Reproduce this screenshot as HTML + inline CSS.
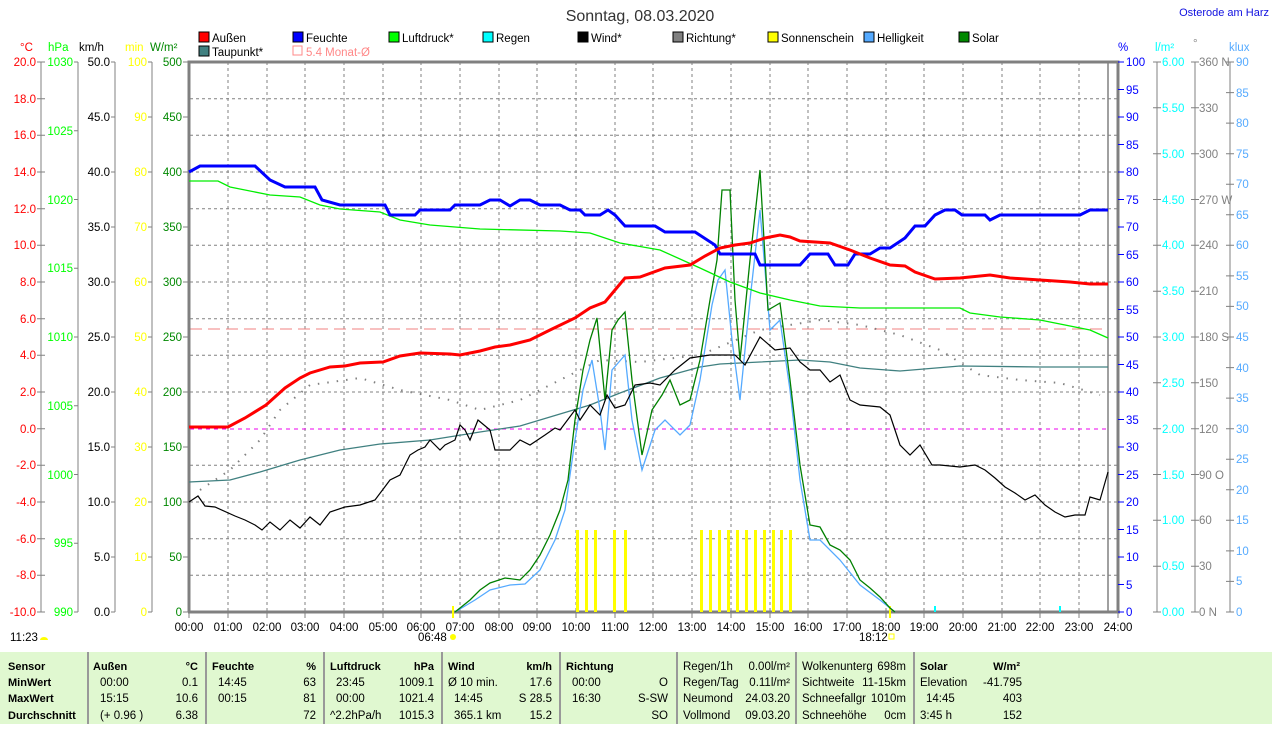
<!DOCTYPE html>
<html><head><meta charset="utf-8"><style>
body{margin:0;background:#fff;width:1274px;height:724px;overflow:hidden;font-family:"Liberation Sans",sans-serif}
svg text{font-family:"Liberation Sans",sans-serif;font-size:11.5px}
</style></head><body>
<svg width="1274" height="724" viewBox="0 0 1274 724" xmlns="http://www.w3.org/2000/svg">
<rect x="0" y="652" width="1272" height="72" fill="#e0f8d0"/>
<g stroke="#999" stroke-width="2">
<line x1="88" y1="652" x2="88" y2="724"/><line x1="206" y1="652" x2="206" y2="724"/><line x1="324" y1="652" x2="324" y2="724"/><line x1="442" y1="652" x2="442" y2="724"/><line x1="560" y1="652" x2="560" y2="724"/><line x1="677" y1="652" x2="677" y2="724"/><line x1="796" y1="652" x2="796" y2="724"/><line x1="914" y1="652" x2="914" y2="724"/>
</g>
<text x="640" y="21" text-anchor="middle" style="font-size:16px" fill="#333">Sonntag, 08.03.2020</text>
<text x="1269" y="16" text-anchor="end" style="font-size:11px" fill="#1010e0">Osterode am Harz</text>
<g stroke="#000" stroke-width="1">
<rect x="199" y="32" width="10" height="10" fill="#f00"/><rect x="293" y="32" width="10" height="10" fill="#00f"/><rect x="389" y="32" width="10" height="10" fill="#0f0"/><rect x="483" y="32" width="10" height="10" fill="#0ff"/><rect x="578" y="32" width="10" height="10" fill="#000"/><rect x="673" y="32" width="10" height="10" fill="#808080"/><rect x="768" y="32" width="10" height="10" fill="#ff0"/><rect x="864" y="32" width="10" height="10" fill="#5af"/><rect x="959" y="32" width="10" height="10" fill="#080"/><rect x="199" y="46" width="10" height="10" fill="#408080"/>
</g>
<rect x="293" y="46" width="9" height="9" fill="none" stroke="#f88"/>
<g fill="#000"><text x="212" y="42">Außen</text><text x="306" y="42">Feuchte</text><text x="402" y="42">Luftdruck*</text><text x="496" y="42">Regen</text><text x="591" y="42">Wind*</text><text x="686" y="42">Richtung*</text><text x="781" y="42">Sonnenschein</text><text x="877" y="42">Helligkeit</text><text x="972" y="42">Solar</text><text x="212" y="56">Taupunkt*</text></g>
<text x="306" y="56" fill="#f88">5.4 Monat-Ø</text>
<text x="20" y="51" fill="#f00">°C</text><text x="48" y="51" fill="#0f0">hPa</text><text x="79" y="51" fill="#000">km/h</text><text x="125" y="51" fill="#ff0">min</text><text x="150" y="51" fill="#080">W/m²</text>
<text x="1118" y="51" fill="#00f">%</text><text x="1155" y="51" fill="#0ff">l/m²</text><text x="1193" y="47" fill="#888">°</text><text x="1229" y="51" fill="#5af">klux</text>
<g stroke="#808080" stroke-dasharray="3 3" stroke-width="1">
<path d="M228 62V612M267 62V612M305 62V612M344 62V612M383 62V612M421 62V612M460 62V612M499 62V612M537 62V612M576 62V612M615 62V612M653 62V612M692 62V612M731 62V612M770 62V612M808 62V612M847 62V612M886 62V612M924 62V612M963 62V612M1002 62V612M1040 62V612M1079 62V612"/>
<path d="M190 98.7H1118M190 135.3H1118M190 172H1118M190 208.7H1118M190 245.3H1118M190 282H1118M190 318.7H1118M190 355.3H1118M190 392H1118M190 465.3H1118M190 502H1118M190 538.7H1118M190 575.3H1118"/>
</g>
<line x1="190" y1="429" x2="1108" y2="429" stroke="#e0e" stroke-dasharray="4 4"/>
<line x1="190" y1="329" x2="1108" y2="329" stroke="#f08080" stroke-dasharray="12 6"/>
<path d="M189 612V62H1118V612" fill="none" stroke="#808080" stroke-width="3"/>
<line x1="1108" y1="62" x2="1108" y2="612" stroke="#808080" stroke-width="1.5"/>
<line x1="188" y1="612" x2="1120" y2="612" stroke="#808080" stroke-width="3"/>
<g stroke="#808080"><path d="M189 612v6M228 612v6M267 612v6M305 612v6M344 612v6M383 612v6M421 612v6M460 612v6M499 612v6M537 612v6M576 612v6M615 612v6M653 612v6M692 612v6M731 612v6M770 612v6M808 612v6M847 612v6M886 612v6M924 612v6M963 612v6M1002 612v6M1040 612v6M1079 612v6M1118 612v6"/></g>
<g fill="#000" text-anchor="middle">
<text x="189" y="631">00:00</text><text x="228" y="631">01:00</text><text x="267" y="631">02:00</text><text x="305" y="631">03:00</text><text x="344" y="631">04:00</text><text x="383" y="631">05:00</text><text x="421" y="631">06:00</text><text x="460" y="631">07:00</text><text x="499" y="631">08:00</text><text x="537" y="631">09:00</text><text x="576" y="631">10:00</text><text x="615" y="631">11:00</text><text x="653" y="631">12:00</text><text x="692" y="631">13:00</text><text x="731" y="631">14:00</text><text x="770" y="631">15:00</text><text x="808" y="631">16:00</text><text x="847" y="631">17:00</text><text x="886" y="631">18:00</text><text x="924" y="631">19:00</text><text x="963" y="631">20:00</text><text x="1002" y="631">21:00</text><text x="1040" y="631">22:00</text><text x="1079" y="631">23:00</text><text x="1118" y="631">24:00</text>
</g>
<text x="418" y="641" fill="#000">06:48</text><circle cx="453" cy="637" r="3" fill="#ff0"/>
<text x="859" y="641" fill="#000">18:12</text><rect x="889" y="634" width="5" height="5" fill="none" stroke="#ff0"/>
<text x="10" y="641" fill="#000">11:23</text><path d="M40 640a4 3 0 0 1 8 0z" fill="#ff0"/>
<line x1="453" y1="606" x2="453" y2="618" stroke="#ff0" stroke-width="2"/><line x1="890" y1="606" x2="890" y2="618" stroke="#ff0" stroke-width="2"/>
<g stroke="#808080" fill="none"><path d="M41 62V612M78 62V612M115 62V612M152 62V612"/>
<path d="M37 62h8M37 98.7h8M37 135.3h8M37 172h8M37 208.7h8M37 245.3h8M37 282h8M37 318.7h8M37 355.3h8M37 392h8M37 428.7h8M37 465.3h8M37 502h8M37 538.7h8M37 575.3h8M37 612h8"/>
<path d="M74 62h4M74 130.75h4M74 199.5h4M74 268.25h4M74 337h4M74 405.75h4M74 474.5h4M74 543.25h4M74 612h4"/>
<path d="M111 62h4M111 117h4M111 172h4M111 227h4M111 282h4M111 337h4M111 392h4M111 447h4M111 502h4M111 557h4M111 612h4"/>
<path d="M148 62h4M148 117h4M148 172h4M148 227h4M148 282h4M148 337h4M148 392h4M148 447h4M148 502h4M148 557h4M148 612h4"/>
<path d="M183 62h5M183 117h5M183 172h5M183 227h5M183 282h5M183 337h5M183 392h5M183 447h5M183 502h5M183 557h5M183 612h5"/></g>
<g fill="#f00" text-anchor="end"><text x="36" y="66">20.0</text><text x="36" y="103">18.0</text><text x="36" y="139">16.0</text><text x="36" y="176">14.0</text><text x="36" y="213">12.0</text><text x="36" y="249">10.0</text><text x="36" y="286">8.0</text><text x="36" y="323">6.0</text><text x="36" y="359">4.0</text><text x="36" y="396">2.0</text><text x="36" y="433">0.0</text><text x="36" y="469">-2.0</text><text x="36" y="506">-4.0</text><text x="36" y="543">-6.0</text><text x="36" y="579">-8.0</text><text x="36" y="616">-10.0</text></g>
<g fill="#0f0" text-anchor="end"><text x="73" y="66">1030</text><text x="73" y="135">1025</text><text x="73" y="204">1020</text><text x="73" y="272">1015</text><text x="73" y="341">1010</text><text x="73" y="410">1005</text><text x="73" y="479">1000</text><text x="73" y="547">995</text><text x="73" y="616">990</text></g>
<g fill="#000" text-anchor="end"><text x="110" y="66">50.0</text><text x="110" y="121">45.0</text><text x="110" y="176">40.0</text><text x="110" y="231">35.0</text><text x="110" y="286">30.0</text><text x="110" y="341">25.0</text><text x="110" y="396">20.0</text><text x="110" y="451">15.0</text><text x="110" y="506">10.0</text><text x="110" y="561">5.0</text><text x="110" y="616">0.0</text></g>
<g fill="#ff0" text-anchor="end"><text x="147" y="66">100</text><text x="147" y="121">90</text><text x="147" y="176">80</text><text x="147" y="231">70</text><text x="147" y="286">60</text><text x="147" y="341">50</text><text x="147" y="396">40</text><text x="147" y="451">30</text><text x="147" y="506">20</text><text x="147" y="561">10</text><text x="147" y="616">0</text></g>
<g fill="#080" text-anchor="end"><text x="182" y="66">500</text><text x="182" y="121">450</text><text x="182" y="176">400</text><text x="182" y="231">350</text><text x="182" y="286">300</text><text x="182" y="341">250</text><text x="182" y="396">200</text><text x="182" y="451">150</text><text x="182" y="506">100</text><text x="182" y="561">50</text><text x="182" y="616">0</text></g>
<g stroke="#808080" fill="none"><path d="M1157 62V612M1195 62V612M1230 62V612"/></g>
<g fill="#00f"><text x="1126" y="66">100</text><text x="1126" y="94">95</text><text x="1126" y="121">90</text><text x="1126" y="149">85</text><text x="1126" y="176">80</text><text x="1126" y="204">75</text><text x="1126" y="231">70</text><text x="1126" y="259">65</text><text x="1126" y="286">60</text><text x="1126" y="314">55</text><text x="1126" y="341">50</text><text x="1126" y="369">45</text><text x="1126" y="396">40</text><text x="1126" y="424">35</text><text x="1126" y="451">30</text><text x="1126" y="479">25</text><text x="1126" y="506">20</text><text x="1126" y="534">15</text><text x="1126" y="561">10</text><text x="1126" y="589">5</text><text x="1126" y="616">0</text></g>
<g stroke="#00f"><path d="M1118 62h6M1118 89.5h6M1118 117h6M1118 144.5h6M1118 172h6M1118 199.5h6M1118 227h6M1118 254.5h6M1118 282h6M1118 309.5h6M1118 337h6M1118 364.5h6M1118 392h6M1118 419.5h6M1118 447h6M1118 474.5h6M1118 502h6M1118 529.5h6M1118 557h6M1118 584.5h6M1118 612h6"/></g>
<g stroke="#808080"><path d="M1153 62h8M1153 107.8h8M1153 153.7h8M1153 199.5h8M1153 245.3h8M1153 291.2h8M1153 337h8M1153 382.8h8M1153 428.7h8M1153 474.5h8M1153 520.3h8M1153 566.2h8M1153 612h8"/>
<path d="M1191 62h8M1191 107.8h8M1191 153.7h8M1191 199.5h8M1191 245.3h8M1191 291.2h8M1191 337h8M1191 382.8h8M1191 428.7h8M1191 474.5h8M1191 520.3h8M1191 566.2h8M1191 612h8"/>
<path d="M1226 62h8M1226 92.6h8M1226 123.1h8M1226 153.7h8M1226 184.2h8M1226 214.8h8M1226 245.3h8M1226 275.9h8M1226 306.4h8M1226 337h8M1226 367.6h8M1226 398.1h8M1226 428.7h8M1226 459.2h8M1226 489.8h8M1226 520.3h8M1226 550.9h8M1226 581.4h8M1226 612h8"/></g>
<g fill="#0ff"><text x="1162" y="66">6.00</text><text x="1162" y="112">5.50</text><text x="1162" y="158">5.00</text><text x="1162" y="204">4.50</text><text x="1162" y="249">4.00</text><text x="1162" y="295">3.50</text><text x="1162" y="341">3.00</text><text x="1162" y="387">2.50</text><text x="1162" y="433">2.00</text><text x="1162" y="479">1.50</text><text x="1162" y="524">1.00</text><text x="1162" y="570">0.50</text><text x="1162" y="616">0.00</text></g>
<g fill="#808080"><text x="1199" y="66">360 N</text><text x="1199" y="112">330</text><text x="1199" y="158">300</text><text x="1199" y="204">270 W</text><text x="1199" y="249">240</text><text x="1199" y="295">210</text><text x="1199" y="341">180 S</text><text x="1199" y="387">150</text><text x="1199" y="433">120</text><text x="1199" y="479">90  O</text><text x="1199" y="524">60</text><text x="1199" y="570">30</text><text x="1199" y="616">0  N</text></g>
<g fill="#5af"><text x="1236" y="66">90</text><text x="1236" y="97">85</text><text x="1236" y="127">80</text><text x="1236" y="158">75</text><text x="1236" y="188">70</text><text x="1236" y="219">65</text><text x="1236" y="249">60</text><text x="1236" y="280">55</text><text x="1236" y="310">50</text><text x="1236" y="341">45</text><text x="1236" y="372">40</text><text x="1236" y="402">35</text><text x="1236" y="433">30</text><text x="1236" y="463">25</text><text x="1236" y="494">20</text><text x="1236" y="524">15</text><text x="1236" y="555">10</text><text x="1236" y="585">5</text><text x="1236" y="616">0</text></g>
<g fill="#ff0"><rect x="576" y="530" width="3" height="82"/><rect x="585" y="530" width="3" height="82"/><rect x="594" y="530" width="3" height="82"/><rect x="613" y="530" width="3" height="82"/><rect x="624" y="530" width="3" height="82"/><rect x="700" y="530" width="3" height="82"/><rect x="709" y="530" width="3" height="82"/><rect x="718" y="530" width="3" height="82"/><rect x="727" y="530" width="3" height="82"/><rect x="736" y="530" width="3" height="82"/><rect x="745" y="530" width="3" height="82"/><rect x="754" y="530" width="3" height="82"/><rect x="763" y="530" width="3" height="82"/><rect x="772" y="530" width="3" height="82"/><rect x="780" y="530" width="3" height="82"/><rect x="789" y="530" width="3" height="82"/></g>
<rect x="934" y="606" width="2" height="6" fill="#0ff"/><rect x="1059" y="606" width="2" height="6" fill="#0ff"/>
<polyline fill="none" stroke="#808080" stroke-width="2" stroke-dasharray="1.5 8" points="200,490 230,470 260,440 280,410 310,385 360,378 400,390 450,400 480,410 520,400 560,380 600,360 640,362 700,355 760,330 820,320 860,325 900,335 940,350 980,375 1020,380 1060,383 1100,395"/>
<polyline fill="none" stroke="#408080" stroke-width="1.3" points="189,482 230,480 260,472 300,460 340,450 380,444 430,440 480,432 520,426 560,414 590,405 620,393 660,378 700,367 720,364 760,362 800,360 830,362 860,368 900,371 960,366 1040,367 1108,367"/>
<polyline fill="none" stroke="#55aaff" stroke-width="1.3" points="455,612 475,600 490,590 510,585 525,584 540,570 555,540 565,510 575,440 583,390 592,360 600,410 605,450 612,370 625,355 632,420 642,470 655,430 665,420 680,435 690,425 700,380 712,305 718,280 725,270 732,340 740,400 750,300 760,210 770,330 780,320 790,390 800,480 810,540 820,540 840,560 860,585 880,600 895,612"/>
<polyline fill="none" stroke="#008000" stroke-width="1.3" points="455,612 470,600 480,590 490,583 505,578 520,580 530,570 540,555 550,535 560,510 568,480 575,420 583,370 590,340 597,318 605,400 612,330 618,320 625,312 632,380 642,455 652,410 662,395 670,380 680,405 690,400 700,360 710,300 717,260 722,190 730,190 735,300 740,360 750,260 760,170 768,310 780,303 790,380 800,465 810,525 820,527 830,545 840,550 850,560 860,580 870,588 880,597 890,608 895,612"/>
<polyline fill="none" stroke="#000" stroke-width="1.2" points="189,502 198,496 205,506 215,507 235,516 245,520 255,525 262,530 270,522 280,530 290,520 300,528 310,517 320,525 330,512 345,507 360,505 375,500 390,480 400,475 410,455 418,450 425,447 430,440 440,450 445,445 455,440 460,425 465,430 470,440 478,420 490,430 495,450 510,450 520,440 530,445 545,435 555,428 560,430 575,410 580,420 590,405 600,415 607,395 615,408 625,405 635,385 650,383 660,385 675,370 690,358 710,355 735,355 745,365 760,337 775,350 790,348 800,362 810,370 820,370 830,382 840,375 850,400 860,405 880,407 890,415 900,445 910,455 920,445 932,465 940,465 960,467 975,465 985,470 995,478 1005,487 1015,493 1025,500 1035,495 1045,505 1055,512 1065,517 1075,515 1085,515 1090,497 1100,500 1108,472"/>
<polyline fill="none" stroke="#00ee00" stroke-width="1.3" points="189,181 218,181 230,187 270,195 300,197 320,205 340,209 380,212 400,220 430,225 480,229 560,231 590,233 620,243 660,250 700,268 730,282 760,293 790,300 820,306 860,308 960,308 970,313 1000,317 1040,320 1060,324 1090,330 1108,338"/>
<polyline fill="none" stroke="#0000ff" stroke-width="3" points="189,172 200,166 255,166 270,180 285,187 315,187 322,200 340,205 385,205 390,215 415,215 420,210 450,210 455,205 480,205 490,200 500,200 510,206 520,200 530,200 540,205 560,205 570,210 580,210 585,215 600,215 608,210 615,215 625,226 655,226 665,232 695,232 715,245 720,254 755,254 760,265 800,265 810,254 828,254 835,265 848,265 855,254 870,254 880,248 890,248 905,238 915,226 925,226 935,215 945,210 955,210 962,215 985,215 990,220 1000,215 1080,215 1090,210 1108,210"/>
<polyline fill="none" stroke="#ff0000" stroke-width="3" points="189,427 228,427 245,418 266,405 285,388 300,378 310,373 330,367 345,366 360,363 383,362 400,356 420,353 450,354 460,355 480,351 495,347 510,345 530,340 550,330 575,318 590,308 605,302 615,290 625,278 640,277 665,268 690,265 705,256 720,248 735,245 750,243 765,238 780,235 790,237 800,241 830,243 850,250 870,258 890,265 905,266 915,272 935,279 960,278 990,275 1010,278 1040,280 1070,282 1090,284 1108,284"/>
<g fill="#000" font-weight="bold" style="font-size:11px"><text x="8" y="670" style="font-size:11px">Sensor</text><text x="8" y="686" style="font-size:11px">MinWert</text><text x="8" y="702" style="font-size:11px">MaxWert</text><text x="8" y="719" style="font-size:11px">Durchschnitt</text>
<text x="93" y="670" style="font-size:11px">Außen</text><text x="198" y="670" text-anchor="end" style="font-size:11px">°C</text><text x="212" y="670" style="font-size:11px">Feuchte</text><text x="316" y="670" text-anchor="end" style="font-size:11px">%</text><text x="330" y="670" style="font-size:11px">Luftdruck</text><text x="434" y="670" text-anchor="end" style="font-size:11px">hPa</text><text x="448" y="670" style="font-size:11px">Wind</text><text x="552" y="670" text-anchor="end" style="font-size:11px">km/h</text><text x="566" y="670" style="font-size:11px">Richtung</text><text x="920" y="670" style="font-size:11px">Solar</text><text x="1020" y="670" text-anchor="end" style="font-size:11px">W/m²</text></g>
<g fill="#000"><text x="100" y="686">00:00</text><text x="198" y="686" text-anchor="end">0.1</text><text x="100" y="702">15:15</text><text x="198" y="702" text-anchor="end">10.6</text><text x="100" y="719">(+ 0.96 )</text><text x="198" y="719" text-anchor="end">6.38</text>
<text x="218" y="686">14:45</text><text x="316" y="686" text-anchor="end">63</text><text x="218" y="702">00:15</text><text x="316" y="702" text-anchor="end">81</text><text x="316" y="719" text-anchor="end">72</text>
<text x="336" y="686">23:45</text><text x="434" y="686" text-anchor="end">1009.1</text><text x="336" y="702">00:00</text><text x="434" y="702" text-anchor="end">1021.4</text><text x="330" y="719">^2.2hPa/h</text><text x="434" y="719" text-anchor="end">1015.3</text>
<text x="448" y="686">Ø 10 min.</text><text x="552" y="686" text-anchor="end">17.6</text><text x="454" y="702">14:45</text><text x="552" y="702" text-anchor="end">S 28.5</text><text x="454" y="719">365.1 km</text><text x="552" y="719" text-anchor="end">15.2</text>
<text x="572" y="686">00:00</text><text x="668" y="686" text-anchor="end">O</text><text x="572" y="702">16:30</text><text x="668" y="702" text-anchor="end">S-SW</text><text x="668" y="719" text-anchor="end">SO</text>
<text x="683" y="670">Regen/1h</text><text x="790" y="670" text-anchor="end">0.00l/m²</text><text x="683" y="686">Regen/Tag</text><text x="790" y="686" text-anchor="end">0.11l/m²</text><text x="683" y="702">Neumond</text><text x="790" y="702" text-anchor="end">24.03.20</text><text x="683" y="719">Vollmond</text><text x="790" y="719" text-anchor="end">09.03.20</text>
<text x="802" y="670">Wolkenunterg</text><text x="906" y="670" text-anchor="end">698m</text><text x="802" y="686">Sichtweite</text><text x="906" y="686" text-anchor="end">11-15km</text><text x="802" y="702">Schneefallgr</text><text x="906" y="702" text-anchor="end">1010m</text><text x="802" y="719">Schneehöhe</text><text x="906" y="719" text-anchor="end">0cm</text>
<text x="920" y="686">Elevation</text><text x="1022" y="686" text-anchor="end">-41.795</text><text x="926" y="702">14:45</text><text x="1022" y="702" text-anchor="end">403</text><text x="920" y="719">3:45 h</text><text x="1022" y="719" text-anchor="end">152</text></g>
</svg>
</body></html>
